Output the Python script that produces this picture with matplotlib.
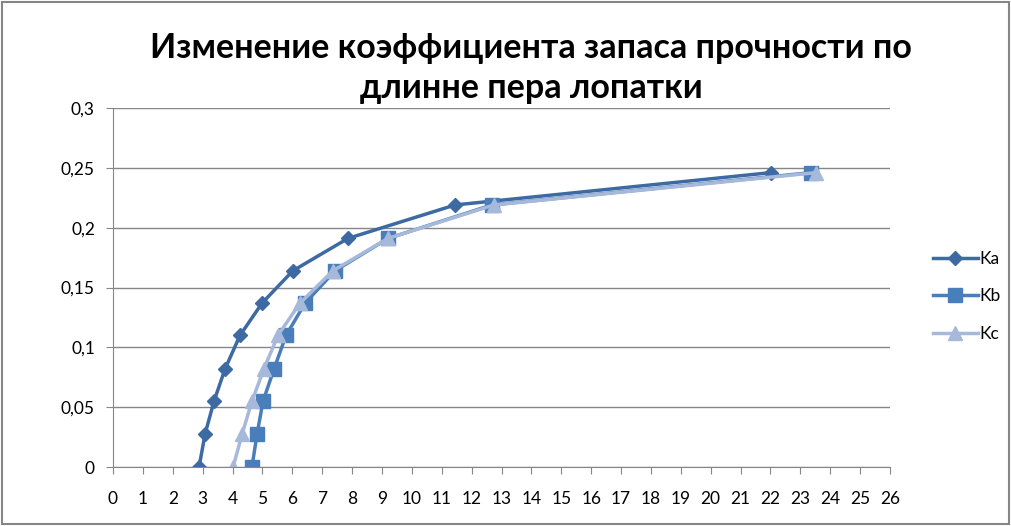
import numpy as np
import matplotlib.pyplot as plt

# значения коэффициентов по длине пера
ka_x = [2.88, 3.08, 3.38, 3.75, 4.25, 4.99, 6.02, 7.86, 11.45, 22.02]
kb_x = [4.65, 4.82, 5.02, 5.39, 5.79, 6.43, 7.43, 9.2, 12.68, 23.36]
kc_x = [4.02, 4.32, 4.65, 5.05, 5.52, 6.26, 7.36, 9.2, 12.75, 23.53]
k_y = [0, 0.0275, 0.055, 0.082, 0.11, 0.137, 0.164, 0.191, 0.219, 0.246]
y_ticks = [0, 0.05, 0.1, 0.15, 0.2, 0.25, 0.3]
y_labels = ['0', '0,05', '0,1', '0,15', '0,2', '0,25', '0,3']

plt.rcParams['font.family'] = ['Lato', 'DejaVu Sans']

fig = plt.figure(figsize=(10.12, 5.26), dpi=100)
ax = fig.add_axes([113/1012, 1-467/526, (890-113)/1012, (467-108)/526])

ax.plot(ka_x, k_y, color='#3D6AA2', lw=2.5, marker='D', ms=7, label='Ka')
ax.plot(kb_x, k_y, color='#4A7EBB', lw=2.5, marker='s', ms=10, label='Kb')
ax.plot(kc_x, k_y, color='#A7B9DA', lw=2.5, marker='^', ms=10, label='Kc')

ax.set_xlim(0, 26)
ax.set_ylim(0, 0.3)
ax.set_xticks(np.arange(0, 27, 1))
ax.set_yticks(y_ticks)
ax.set_yticklabels(y_labels)
ax.grid(True, axis='y', color='#868686', lw=1)
ax.set_axisbelow(True)
for s in ['top', 'right']:
    ax.spines[s].set_visible(False)
for s in ['left', 'bottom']:
    ax.spines[s].set_color('#868686')
ax.tick_params(direction='out', length=5, color='#868686', labelsize=12.5, pad=8)
ax.tick_params(axis='x', pad=12)

fig.text(531/1012, 1-68/526, 'Изменение коэффициента запаса прочности по\nдлинне пера лопатки',
         ha='center', va='center', fontsize=24.5, fontweight='bold', linespacing=1.3)

ax.legend(loc='center left', bbox_to_anchor=(1.035, 0.475), frameon=False,
          fontsize=12.5, handlelength=2.6, labelspacing=1.25, handletextpad=0.1)

border = plt.Rectangle((0.002, 0.003), 0.995, 0.994, transform=fig.transFigure,
                       fill=False, edgecolor='#868686', lw=1.5)
fig.patches.append(border)

fig.savefig('out.png', dpi=100)
